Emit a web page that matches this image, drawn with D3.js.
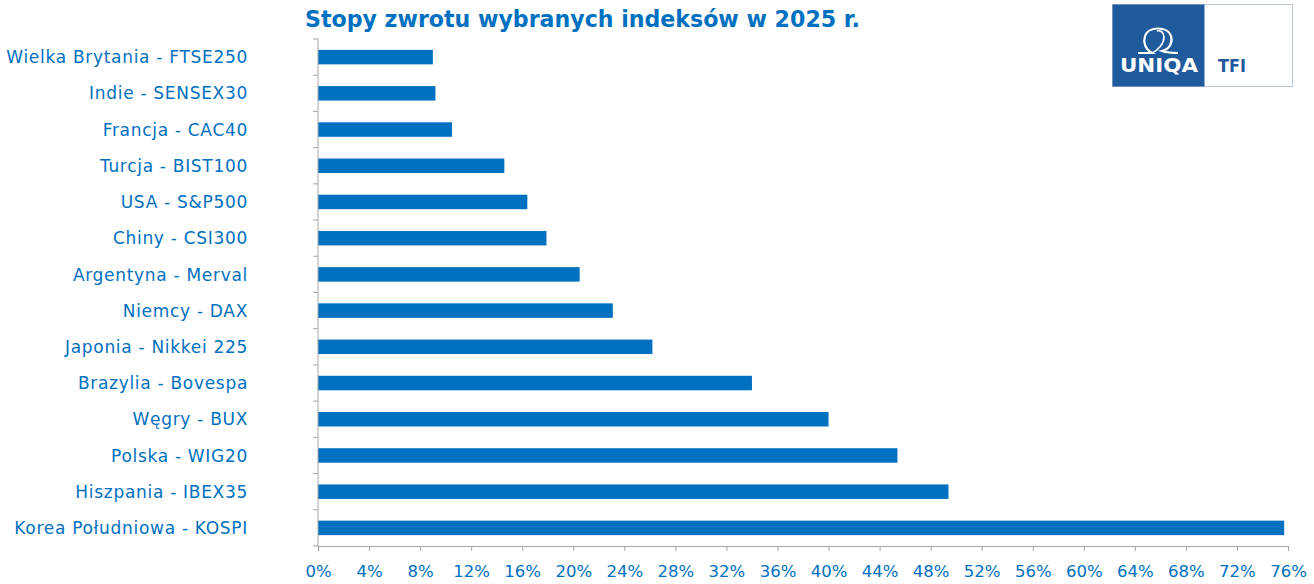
<!DOCTYPE html>
<html>
<head>
<meta charset="utf-8">
<script src="https://cdn.jsdelivr.net/npm/d3@7"></script>
<style>
  body { margin: 0; background: #fff; }
  svg { display: block; }
  .axis text { font-family: 'DejaVu Sans', sans-serif; fill: #0070C0; }
  .axis path, .axis line { stroke: #A6A6A6; }
</style>
</head>
<body>
<div id="chart"></div>
<script>
// stopy zwrotu 2025
var categories = [
  'Wielka Brytania - FTSE250',
  'Indie - SENSEX30',
  'Francja - CAC40',
  'Turcja - BIST100',
  'USA - S&P500',
  'Chiny - CSI300',
  'Argentyna - Merval',
  'Niemcy - DAX',
  'Japonia - Nikkei 225',
  'Brazylia - Bovespa',
  'Węgry - BUX',
  'Polska - WIG20',
  'Hiszpania - IBEX35',
  'Korea Południowa - KOSPI'
];
var values = [9.0, 9.2, 10.5, 14.6, 16.4, 17.9, 20.5, 23.1, 26.2, 34.0, 40.0, 45.4, 49.4, 75.7];
var xTicks = [0, 4, 8, 12, 16, 20, 24, 28, 32, 36, 40, 44, 48, 52, 56, 60, 64, 68, 72, 76];
var title = 'Stopy zwrotu wybranych indeksów w 2025 r.';

var width = 1314, height = 584;
var margin = { top: 39, right: 26, bottom: 38, left: 318 };
var blue = '#0070C0';

var svg = d3.select('#chart').append('svg')
  .attr('width', width)
  .attr('height', height);

var x = d3.scaleLinear().domain([0, 76]).range([margin.left, width - margin.right]);
var y = d3.scaleBand().domain(categories)
  .range([margin.top, height - margin.bottom])
  .paddingInner(0.6).paddingOuter(0.3);

// title
svg.append('text')
  .attr('x', 305)
  .attr('y', 27)
  .attr('textLength', 555)
  .attr('lengthAdjust', 'spacingAndGlyphs')
  .style('font-family', "'DejaVu Sans', sans-serif")
  .style('font-weight', 'bold')
  .style('font-size', '23px')
  .style('fill', blue)
  .text(title);

// bars
svg.selectAll('.bar')
  .data(values).enter()
  .append('rect')
  .attr('class', 'bar')
  .attr('x', x(0))
  .attr('y', function(d, i) { return y(categories[i]); })
  .attr('width', function(d) { return x(d) - x(0); })
  .attr('height', y.bandwidth())
  .attr('fill', blue);

// x axis
var xAxis = d3.axisBottom(x)
  .tickValues(xTicks)
  .tickFormat(function(d) { return d + '%'; })
  .tickSize(5)
  .tickSizeOuter(5)
  .tickPadding(14);

var gx = svg.append('g')
  .attr('class', 'axis')
  .attr('transform', 'translate(0,' + (height - margin.bottom) + ')')
  .call(xAxis);
gx.selectAll('text').style('font-size', '16.5px');

// y axis - ticks on category boundaries
var yAxis = d3.axisLeft(y).tickSize(0).tickPadding(70);
var gy = svg.append('g')
  .attr('class', 'axis')
  .attr('transform', 'translate(' + margin.left + ',0)')
  .call(yAxis);
gy.select('.domain').remove();
gy.selectAll('text')
  .style('font-size', '17px')
  .style('letter-spacing', '0.7px')
  .attr('dy', '0.36em');

var step = y.step();
var edges = d3.range(categories.length + 1).map(function(i) { return margin.top + i * step; });
gy.append('line')
  .attr('x1', 0).attr('x2', 0)
  .attr('y1', margin.top).attr('y2', height - margin.bottom)
  .attr('stroke', '#A6A6A6');
gy.selectAll('.edge').data(edges).enter()
  .append('line')
  .attr('class', 'edge')
  .attr('x1', -5).attr('x2', 0)
  .attr('y1', function(d) { return d; })
  .attr('y2', function(d) { return d; })
  .attr('stroke', '#A6A6A6');

// logo UNIQA TFI
var logo = svg.append('g').attr('transform', 'translate(1112,4)');
logo.append('rect').attr('x', 0.5).attr('y', 0.5).attr('width', 180).attr('height', 82)
  .attr('fill', '#fff').attr('stroke', '#B8C7D9');
logo.append('rect').attr('x', 0.5).attr('y', 0.5).attr('width', 92).attr('height', 82)
  .attr('fill', '#1F5A9C');
logo.append('path')
  .attr('d', 'M26,49 L40,49 C33,45 31,38 33,32 C36,22 56,22 59,32 C61,38 58,45 50,47 C56,49 60,49 66,49')
  .attr('fill', 'none').attr('stroke', '#fff').attr('stroke-width', 2.2);
logo.append('path')
  .attr('d', 'M40,49 C46,46 52,40 52,33 C52,28 48,26 45,27')
  .attr('fill', 'none').attr('stroke', '#fff').attr('stroke-width', 1.6);
logo.append('text').attr('x', 8).attr('y', 68)
  .attr('textLength', 78).attr('lengthAdjust', 'spacingAndGlyphs')
  .style('font-family', "'DejaVu Sans', sans-serif").style('font-weight', 'bold')
  .style('font-size', '19px').style('fill', '#fff').text('UNIQA');
logo.append('text').attr('x', 106).attr('y', 68)
  .attr('textLength', 28).attr('lengthAdjust', 'spacingAndGlyphs')
  .style('font-family', "'DejaVu Sans', sans-serif").style('font-weight', 'bold')
  .style('font-size', '18px').style('fill', '#1F5A9C').text('TFI');
</script>
</body>
</html>
